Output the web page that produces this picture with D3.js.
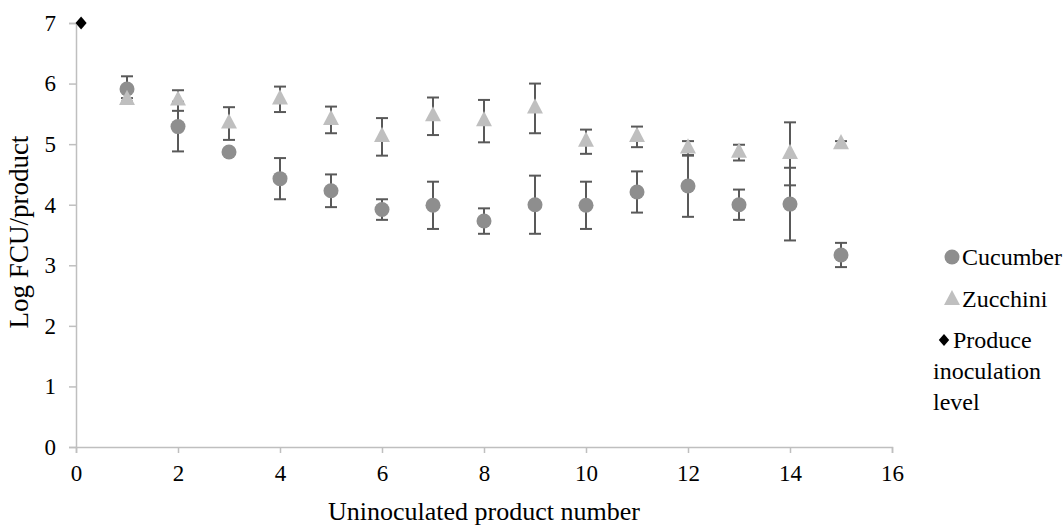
<!DOCTYPE html>
<html>
<head>
<meta charset="utf-8">
<script src="https://cdn.jsdelivr.net/npm/d3@7"></script>
<style>
  body { margin: 0; background: #fff; }
  svg text { font-family: "Liberation Serif", "Times New Roman", serif !important; }
</style>
</head>
<body>
<div id="chart"></div>
<script>
// chart size
const width = 1064;
const height = 525;

// data
const productNumbers = [1, 2, 3, 4, 5, 6, 7, 8, 9, 10, 11, 12, 13, 14, 15];
const cucumberMeans = [5.91, 5.29, 4.87, 4.43, 4.23, 3.92, 3.99, 3.73, 4.00, 3.99, 4.21, 4.31, 4.00, 4.01, 3.17];
const cucumberErrors = [0.21, 0.41, 0.02, 0.34, 0.27, 0.17, 0.39, 0.21, 0.48, 0.39, 0.34, 0.51, 0.25, 0.60, 0.20];
const zucchiniMeans = [5.73, 5.72, 5.34, 5.74, 5.40, 5.12, 5.46, 5.38, 5.59, 5.04, 5.12, 4.93, 4.86, 4.84, 5.00];
const zucchiniErrors = [0.03, 0.17, 0.27, 0.21, 0.22, 0.31, 0.31, 0.35, 0.41, 0.20, 0.17, 0.12, 0.13, 0.52, 0.05];
const inoculation = [{ x: 0.1, y: 7 }];
const xTicks = [0, 2, 4, 6, 8, 10, 12, 14, 16];
const yTicks = [0, 1, 2, 3, 4, 5, 6, 7];

const margin = { top: 23, right: 172, bottom: 78, left: 76 };

const svg = d3.select("#chart")
  .append("svg")
    .attr("width", width)
    .attr("height", height);

const x = d3.scaleLinear()
  .domain([0, 16])
  .range([margin.left, width - margin.right]);

const y = d3.scaleLinear()
  .domain([0, 7])
  .range([height - margin.bottom, margin.top]);

// axes
const xAxis = svg.append("g")
  .attr("transform", `translate(0,${y(0)})`)
  .call(d3.axisBottom(x).tickValues(xTicks).tickFormat(d3.format("d")).tickSize(6).tickPadding(12));

const yAxis = svg.append("g")
  .attr("transform", `translate(${x(0)},0)`)
  .call(d3.axisLeft(y).tickValues(yTicks).tickFormat(d3.format("d")).tickSize(7).tickPadding(13));

[xAxis, yAxis].forEach(a => {
  a.attr("font-size", 23);
  a.selectAll("path, line").attr("stroke", "#bfbfbf").attr("stroke-width", 1.5);
  a.selectAll("text").attr("fill", "#000");
});

// axis titles
svg.append("text")
  .attr("x", (x(0) + x(16)) / 2)
  .attr("y", 520)
  .attr("text-anchor", "middle")
  .attr("font-size", 26)
  .text("Uninoculated product number");

svg.append("text")
  .attr("transform", `translate(28,232) rotate(-90)`)
  .attr("text-anchor", "middle")
  .attr("font-size", 27)
  .text("Log FCU/product");

// build rows for both series
const cucumber = productNumbers.map((n, i) => ({ x: n, y: cucumberMeans[i], e: cucumberErrors[i] }));
const zucchini = productNumbers.map((n, i) => ({ x: n, y: zucchiniMeans[i], e: zucchiniErrors[i] }));

const errColor = "#595959";
const capHalf = 6;

// error bars, drawn under the markers
function drawErrors(data) {
  const g = svg.append("g");
  g.selectAll("line.bar")
    .data(data)
    .join("line")
      .attr("x1", d => x(d.x)).attr("x2", d => x(d.x))
      .attr("y1", d => y(d.y - d.e)).attr("y2", d => y(d.y + d.e))
      .attr("stroke", errColor).attr("stroke-width", 2);
  ["top", "bottom"].forEach(side => {
    g.selectAll("line." + side)
      .data(data)
      .join("line")
        .attr("x1", d => x(d.x) - capHalf).attr("x2", d => x(d.x) + capHalf)
        .attr("y1", d => y(side === "top" ? d.y + d.e : d.y - d.e))
        .attr("y2", d => y(side === "top" ? d.y + d.e : d.y - d.e))
        .attr("stroke", errColor).attr("stroke-width", 2);
  });
}

drawErrors(cucumber);
drawErrors(zucchini);

// markers
svg.append("g")
  .selectAll("circle")
  .data(cucumber)
  .join("circle")
    .attr("cx", d => x(d.x))
    .attr("cy", d => y(d.y))
    .attr("r", 7.5)
    .attr("fill", "#8e8e8e");

const triangle = d3.symbol().type(d3.symbolTriangle).size(110);
svg.append("g")
  .selectAll("path")
  .data(zucchini)
  .join("path")
    .attr("transform", d => `translate(${x(d.x)},${y(d.y)}) scale(1,1.1)`)
    .attr("d", triangle)
    .attr("fill", "#bfbfbf");

// diamond = square turned 45 degrees, a little taller than wide
const square = d3.symbol().type(d3.symbolSquare).size(68);
svg.append("g")
  .selectAll("path")
  .data(inoculation)
  .join("path")
    .attr("transform", d => `translate(${x(d.x)},${y(d.y)}) scale(0.95,1.1) rotate(45)`)
    .attr("d", square)
    .attr("fill", "#000");

// legend
const legend = svg.append("g").attr("font-size", 24);
legend.append("circle").attr("cx", 952).attr("cy", 257).attr("r", 7.5).attr("fill", "#8e8e8e");
legend.append("text").attr("x", 962).attr("y", 265).text("Cucumber");

legend.append("path")
  .attr("transform", "translate(952,300) scale(1,1.1)")
  .attr("d", d3.symbol().type(d3.symbolTriangle).size(110))
  .attr("fill", "#bfbfbf");
legend.append("text").attr("x", 962).attr("y", 307).text("Zucchini");

legend.append("path")
  .attr("transform", "translate(944,340) scale(0.95,1.1) rotate(45)")
  .attr("d", d3.symbol().type(d3.symbolSquare).size(60))
  .attr("fill", "#000");
["Produce", "inoculation", "level"].forEach((t, i) => {
  legend.append("text")
    .attr("x", i === 0 ? 953 : 933)
    .attr("y", 348 + i * 31)
    .text(t);
});
</script>
</body>
</html>
